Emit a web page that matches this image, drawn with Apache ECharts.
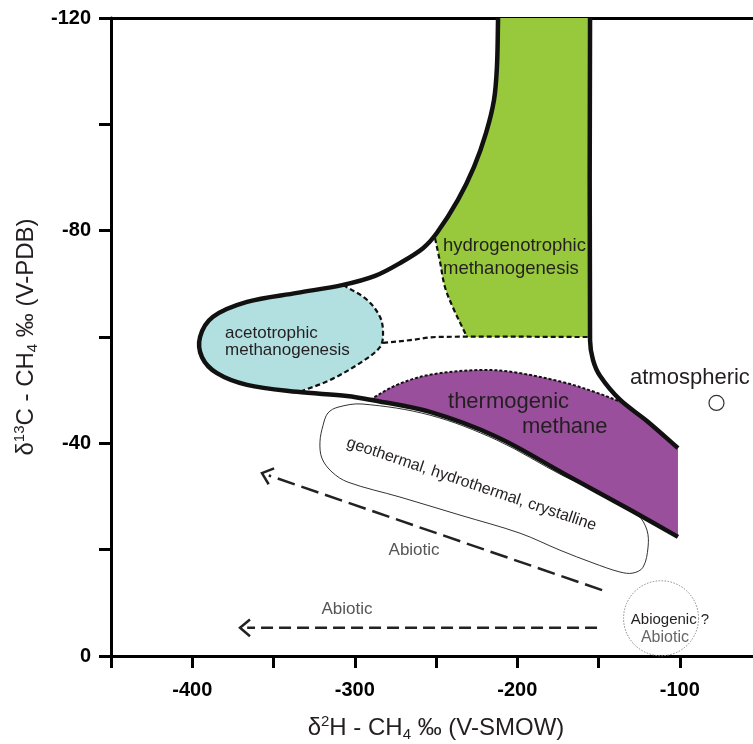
<!DOCTYPE html>
<html><head><meta charset="utf-8">
<script src="https://cdn.jsdelivr.net/npm/echarts@6/dist/echarts.min.js"></script>
<style>html,body{margin:0;padding:0;background:#fff}#c{width:753px;height:744px}</style>
</head><body><div id="c"></div>
<script>
// ---------------- DATA (δ2H, δ13C) ----------------
const xTickLabels = [-400, -300, -200, -100];
const yTickLabels = [-120, -80, -40, 0];

// thick outer envelope of the microbial fields (from top of hydrogenotrophic field round the acetotrophic lobe to the bottom of thermogenic field)
const envelope = [[-211.8,-120],[-212.5,-110.8],[-214.3,-104.6],[-219.2,-98.4],[-226.6,-92],[-236.5,-85.8],[-249.4,-79.6],[-258,-76.7],[-272.2,-73.9],[-287.5,-71.5],[-307.2,-69.8],[-335.5,-68.3],[-366.3,-66.6],[-387.2,-63.8],[-395.2,-60],[-394,-56.2],[-384.8,-53.2],[-366.3,-51],[-335.5,-49.7],[-304.8,-48.9],[-290.6,-48.2],[-253.7,-45.9],[-212.5,-41.2],[-171.8,-34.4],[-130.6,-27.5],[-101.1,-22.4]];
// thick right boundary
const rightLine = [[-155.2,-120],[-155.2,-59.4],[-153.4,-55.7],[-149.1,-52.7],[-136.8,-48.2],[-120.2,-44.2],[-101.1,-39.1]];
// dashed boundaries
const greenDashed = [[-250.6,-78.6],[-247.5,-74.1],[-244.5,-69.4],[-239.5,-65.5],[-230.9,-60]];
const acetoDashed = [[-307.2,-69.8],[-292.5,-67],[-284.5,-63.8],[-282.6,-60.8],[-284.5,-58.1],[-296.8,-55.1],[-315.2,-51.9],[-333.7,-49.7]];
const midDashed = [[-282.6,-58.9],[-266,-59.4],[-250,-60],[-155.2,-60]];
const thermoTop = [[-290.6,-48.2],[-274,-51],[-253.7,-52.9],[-222.9,-53.8],[-202.6,-53.4],[-171.8,-51.5],[-150.9,-49.5],[-133.1,-47.4]];
const thermoRight = [[-101.1,-39.1],[-101.1,-22.4]];
// geothermal / hydrothermal / crystalline field (closed)
const geoOutline = [[-310.3,-46.8],[-295.5,-47.4],[-253.7,-45.3],[-212.5,-40.6],[-171.8,-33.9],[-139.8,-29.3],[-125.7,-26.5],[-120.2,-23.7],[-119.5,-20.5],[-122.6,-16.7],[-128.8,-15.6],[-136.8,-15.8],[-153.4,-17.5],[-173.7,-19.9],[-198.3,-23.1],[-235.2,-26.5],[-272.2,-29.9],[-304.2,-32.7],[-314,-34.6],[-320.2,-37.2],[-321.4,-40.3],[-319.5,-43.4],[-316.5,-45.7]];
// abiotic arrows (tail -> head)
const arrowDiag = [[-147.8,-12.4],[-357.1,-34.4]];
const arrowFlat = [[-150.9,-5.3],[-370.6,-5.3]];
// point markers
const abiogenicCenter = [-111.5,-7.1];
const atmosphericPoint = [-77.4,-47.6];
// annotations
const labelTexts = ['acetotrophic\nmethanogenesis','hydrogenotrophic\nmethanogenesis','thermogenic','methane','geothermal, hydrothermal, crystalline','Abiotic','Abiotic','atmospheric','Abiogenic ?','Abiotic'];
const labelAnchors = [[-379.8,-59.1],[-245.7,-75],[-242.6,-47.8],[-197.1,-43.1],[-228.2,-32.3],[-263.5,-19.8],[-304.8,-8.7],[-130.6,-52.3],[-106,-6.8],[-109.1,-3.4]];

// ---------------- STYLE ----------------
const FONT = '"Liberation Sans", Arial, Helvetica, sans-serif';
const labelStyles = [
  {size:17, lh:17, align:'left', color:'#231f20'},
  {size:18.5, lh:22.5, align:'left', color:'#231f20'},
  {size:22, lh:24, align:'left', color:'#231f20'},
  {size:22, lh:24, align:'left', color:'#231f20'},
  {size:16, lh:18, align:'center', color:'#231f20', rot:-0.325},
  {size:17, lh:18, align:'center', color:'#555'},
  {size:17, lh:18, align:'center', color:'#555'},
  {size:22, lh:24, align:'left', color:'#231f20'},
  {size:15, lh:16, align:'center', color:'#231f20'},
  {size:16, lh:16, align:'center', color:'#666'}
];
const GREEN = '#98c83c', CYAN = '#b2dfe0', PURPLE = '#9a4f9d', INK = '#111';

function unit(a,b){const dx=b[0]-a[0],dy=b[1]-a[1];const l=Math.hypot(dx,dy)||1;return [dx/l,dy/l];}
function curveCmds(p, closed, k){
  k = k==null ? 0.34 : k;
  const n=p.length; let s='';
  const segs = closed ? n : n-1;
  for(let i=0;i<segs;i++){
    const p1=p[i], p2=p[(i+1)%n];
    const p0 = closed ? p[(i-1+n)%n] : (i>0 ? p[i-1] : p1);
    const p3 = closed ? p[(i+2)%n] : (i+2<n ? p[i+2] : p2);
    const d1=unit(p0,p2), d2=unit(p1,p3);
    const L=Math.hypot(p2[0]-p1[0],p2[1]-p1[1]);
    s += ' C '+(p1[0]+d1[0]*L*k)+' '+(p1[1]+d1[1]*L*k)+' '+(p2[0]-d2[0]*L*k)+' '+(p2[1]-d2[1]*L*k)+' '+p2[0]+' '+p2[1];
  }
  return s;
}
function buildPath(segs, close){
  let s=''; let cur=null;
  segs.forEach(seg=>{
    const p=seg.pts;
    if(cur===null){ s+='M '+p[0][0]+' '+p[0][1]; }
    else if(Math.hypot(cur[0]-p[0][0],cur[1]-p[0][1])>0.01){ s+=' L '+p[0][0]+' '+p[0][1]; }
    if(seg.smooth){ s+=curveCmds(p,false); }
    else { for(let i=1;i<p.length;i++) s+=' L '+p[i][0]+' '+p[i][1]; }
    cur=p[p.length-1];
  });
  if(close) s+=' Z';
  return s;
}
function closedPath(p){ return 'M '+p[0][0]+' '+p[0][1]+curveCmds(p,true)+' Z'; }

function renderAll(params, api){
  const px = pts => pts.map(pt => api.coord(pt));
  const ch = [];
  // fills
  const greenPts = buildPath([
    {pts:px(envelope.slice(0,7)), smooth:true},
    {pts:px(greenDashed), smooth:true},
    {pts:px([[-155.2,-60],[-155.2,-120]]), smooth:false}
  ], true);
  ch.push({type:'path', shape:{pathData:greenPts}, style:{fill:GREEN, stroke:null}});
  const cyanPts = buildPath([
    {pts:px(envelope.slice(10,19)), smooth:true},
    {pts:px(acetoDashed.slice().reverse()), smooth:true}
  ], true);
  ch.push({type:'path', shape:{pathData:cyanPts}, style:{fill:CYAN, stroke:null}});
  const purplePts = buildPath([
    {pts:px(thermoTop), smooth:true},
    {pts:px(rightLine.slice(5)), smooth:true},
    {pts:px(thermoRight), smooth:false},
    {pts:px(envelope.slice(20).reverse()), smooth:true}
  ], true);
  ch.push({type:'path', shape:{pathData:purplePts}, style:{fill:PURPLE, stroke:null}});
  // geothermal field
  ch.push({type:'path', shape:{pathData:closedPath(px(geoOutline))}, style:{fill:null, stroke:'#333', lineWidth:1}});
  // dashed boundaries
  const dashStyle = {fill:null, stroke:INK, lineWidth:2.2, lineDash:[5,3]};
  [greenDashed, acetoDashed, midDashed].forEach(d=>{
    ch.push({type:'path', shape:{pathData:buildPath([{pts:px(d),smooth:true}],false)}, style:dashStyle});
  });
  ch.push({type:'path', shape:{pathData:buildPath([{pts:px(thermoTop),smooth:true}],false)}, style:{fill:null, stroke:INK, lineWidth:2, lineDash:[3,2]}});
  // thick lines
  const thick = {fill:null, stroke:INK, lineWidth:4.5, lineCap:'butt', lineJoin:'round'};
  ch.push({type:'path', shape:{pathData:buildPath([{pts:px(envelope),smooth:true}],false)}, style:thick});
  ch.push({type:'path', shape:{pathData:buildPath([{pts:px(rightLine),smooth:true}],false)}, style:thick});
  // arrows
  [[arrowDiag,[18,7]],[arrowFlat,[12,6]]].forEach(([a,dash])=>{
    const p = px(a); const tail=p[0], tip=p[1];
    ch.push({type:'line', shape:{x1:tail[0],y1:tail[1],x2:tip[0]+ (tail[0]-tip[0])*0.02, y2:tip[1]+(tail[1]-tip[1])*0.02}, style:{stroke:'#222', lineWidth:2.5, lineDash:dash}});
    const b = unit(tip, tail); const ang = 40*Math.PI/180, len=13;
    const r = (v,t)=>[v[0]*Math.cos(t)-v[1]*Math.sin(t), v[0]*Math.sin(t)+v[1]*Math.cos(t)];
    const a1=r(b,ang), a2=r(b,-ang);
    ch.push({type:'polyline', shape:{points:[[tip[0]+a1[0]*len, tip[1]+a1[1]*len], tip, [tip[0]+a2[0]*len, tip[1]+a2[1]*len]]}, style:{fill:null, stroke:'#222', lineWidth:2.5}});
  });
  // circles
  const c1 = api.coord(abiogenicCenter);
  ch.push({type:'circle', shape:{cx:c1[0], cy:c1[1], r:37.5}, style:{fill:null, stroke:'#888', lineWidth:1, lineDash:[1.5,1.5]}});
  const c2 = api.coord(atmosphericPoint);
  ch.push({type:'circle', shape:{cx:c2[0], cy:c2[1], r:7.5}, style:{fill:'#fff', stroke:'#333', lineWidth:1.2}});
  // labels
  labelTexts.forEach((t,i)=>{
    const p = api.coord(labelAnchors[i]); const st = labelStyles[i];
    ch.push({type:'text', x:p[0], y:p[1], rotation: st.rot || 0,
      style:{text:t, fill:st.color, fontSize:st.size, fontFamily:FONT, lineHeight:st.lh, align:st.align, verticalAlign:'middle'}});
  });
  return {type:'group', children:ch};
}

const richAxis = {
  sup:{fontSize:15, lineHeight:15, verticalAlign:'top', fontFamily:FONT, color:'#231f20'},
  sub:{fontSize:15, lineHeight:15, verticalAlign:'bottom', fontFamily:FONT, color:'#231f20'}
};

const chart = echarts.init(document.getElementById('c'), null, {renderer:'canvas'});
chart.setOption({
  animation:false,
  backgroundColor:'#fff',
  grid:{left:111, top:18, width:650, height:638, containLabel:false, outerBoundsMode:'none'},
  xAxis:[{
    type:'value', min:-450, max:-50, interval:50, position:'bottom',
    axisLine:{onZero:false, lineStyle:{color:'#000', width:3}},
    axisTick:{length:12, lineStyle:{color:'#000', width:3}},
    axisLabel:{margin:24, fontSize:20, fontWeight:'bold', fontFamily:FONT, color:'#000',
      formatter: v => xTickLabels.indexOf(v) >= 0 ? String(v) : ''},
    splitLine:{show:false},
    name:'δ{sup|2}H - CH{sub|4} ‰ (V-SMOW)', nameLocation:'middle', nameGap:58,
    nameTextStyle:{fontSize:24, fontFamily:FONT, color:'#231f20', lineHeight:28, rich:richAxis}
  },{
    type:'value', min:-450, max:-50, position:'top',
    axisLine:{onZero:false, lineStyle:{color:'#000', width:3}},
    axisTick:{show:false}, axisLabel:{show:false}, splitLine:{show:false}
  }],
  yAxis:{
    type:'value', min:-120, max:0, interval:20, inverse:true,
    axisLine:{onZero:false, lineStyle:{color:'#000', width:3}},
    axisTick:{length:12, lineStyle:{color:'#000', width:3}},
    axisLabel:{margin:20, fontSize:20, fontWeight:'bold', fontFamily:FONT, color:'#000',
      formatter: v => yTickLabels.indexOf(v) >= 0 ? String(v) : ''},
    splitLine:{show:false},
    name:'δ{sup|13}C - CH{sub|4} ‰ (V-PDB)', nameLocation:'middle', nameGap:58, nameRotate:90,
    nameTextStyle:{fontSize:24, fontFamily:FONT, color:'#231f20', lineHeight:28, rich:richAxis}
  },
  series:[{
    type:'custom', xAxisIndex:0, yAxisIndex:0, coordinateSystem:'cartesian2d',
    data:[[-450,0]], renderItem:renderAll, silent:true, clip:false
  }]
});
</script></body></html>
